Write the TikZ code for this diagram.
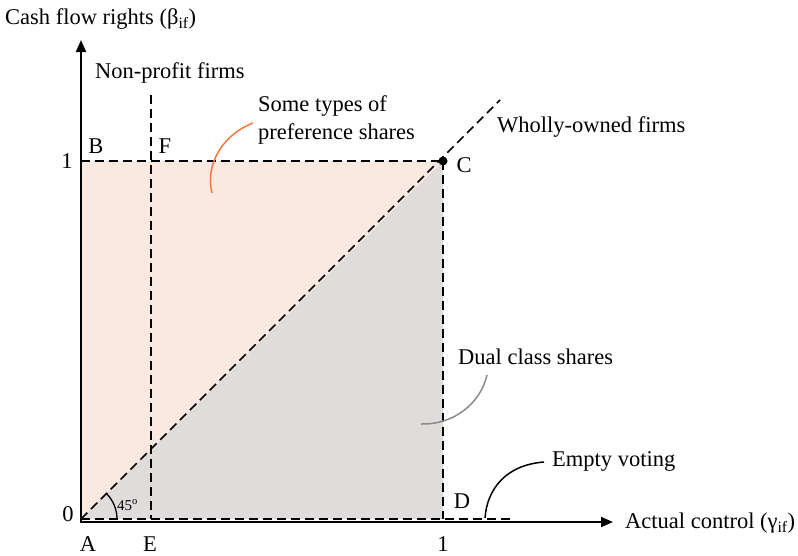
\documentclass[tikz,border=0pt]{standalone}
\usepackage{fontspec}
\setmainfont{Liberation Serif}
\usetikzlibrary{arrows.meta}
\definecolor{peach}{HTML}{FAE9E0}
\definecolor{greyfill}{HTML}{E0DCDC}
\definecolor{curveorange}{HTML}{F07A3E}
\definecolor{curvegrey}{HTML}{8A8A8A}
\begin{document}
\begin{tikzpicture}[x=1pt,y=-1pt,
  lbl/.style={font=\fontsize{22.5}{28}\selectfont, inner sep=0pt},
  small/.style={font=\fontsize{15}{16}\selectfont, inner sep=0pt},
  dline/.style={dash pattern=on 9pt off 5pt, line width=1.6pt},
  axisline/.style={line width=2pt, -{Triangle[length=12pt,width=10pt]}},
  callout/.style={line width=1.5pt},
]
\useasboundingbox (0,0) rectangle (798,555);
% key points
\coordinate (A) at (81,519);
\coordinate (B) at (81,161);
\coordinate (C) at (443,161);
\coordinate (D) at (443,519);
\coordinate (Etop) at (151,95);
\coordinate (Ebot) at (151,519);
\coordinate (Dend) at (510,519);
\coordinate (Wend) at (500,100);
\coordinate (Ytip) at (81,40);
\coordinate (Xtip) at (613,522);
% fills
\fill[peach] (A) -- (B) -- (C) -- cycle;
\fill[greyfill] (A) -- (C) -- (D) -- cycle;
% dashed lines
\draw[dline] (B) -- (C);
\draw[dline] (C) -- (D);
\draw[dline] (A) -- (Dend);
\draw[dline] (Etop) -- (Ebot);
\draw[dline] (A) -- (Wend);
% axes
\draw[axisline] (81,523) -- (Ytip);
\draw[axisline] (80,522) -- (Xtip);
% point C
\fill (C) circle[radius=4.5];
% angle
\draw[line width=1.3pt] (117,519) arc[start angle=0, end angle=-45, radius=36];
\node[small, anchor=west] (ang) at (117,505) {45\textsuperscript{o}};
% axis labels
\node[lbl, anchor=west] (ylab) at (5,19) {Cash flow rights (β\textsubscript{if})};
\node[lbl, anchor=west] (xlab) at (625,523) {Actual control (γ\textsubscript{if})};
% point labels
\node[lbl] (Bl) at (96,146) {B};
\node[lbl] (Fl) at (165,146) {F};
\node[lbl] (Cl) at (464,165) {C};
\node[lbl] (Dl) at (462,501) {D};
\node[lbl] (Al) at (88,544) {A};
\node[lbl] (El) at (150,544) {E};
\node[lbl] (one) at (443,544) {1};
\node[lbl] (oneY) at (67,161) {1};
\node[lbl] (zero) at (68,514) {0};
% region labels
\node[lbl, anchor=west] (np) at (95,73) {Non-profit firms};
\node[lbl, anchor=west] (wo) at (497,127) {Wholly-owned firms};
\node[lbl, anchor=west, align=left] (pref) at (258,120) {Some types of\\preference shares};
\node[lbl, anchor=west] (dual) at (458,357) {Dual class shares};
\node[lbl, anchor=west] (empty) at (552,461) {Empty voting};
% callouts
\coordinate (prefEnd) at (212,193);
\coordinate (dualEnd) at (421,424);
\coordinate (emptyStart) at (544,462);
\coordinate (emptyEnd) at (485,518);
\draw[callout, curveorange] (253,123) .. controls (222,135) and (205,165) .. (prefEnd);
\draw[callout, curvegrey] (487,375) .. controls (480,405) and (452,425) .. (dualEnd);
\draw[callout, black] (emptyStart) .. controls (505,465) and (487,490) .. (emptyEnd);
\end{tikzpicture}
\end{document}
